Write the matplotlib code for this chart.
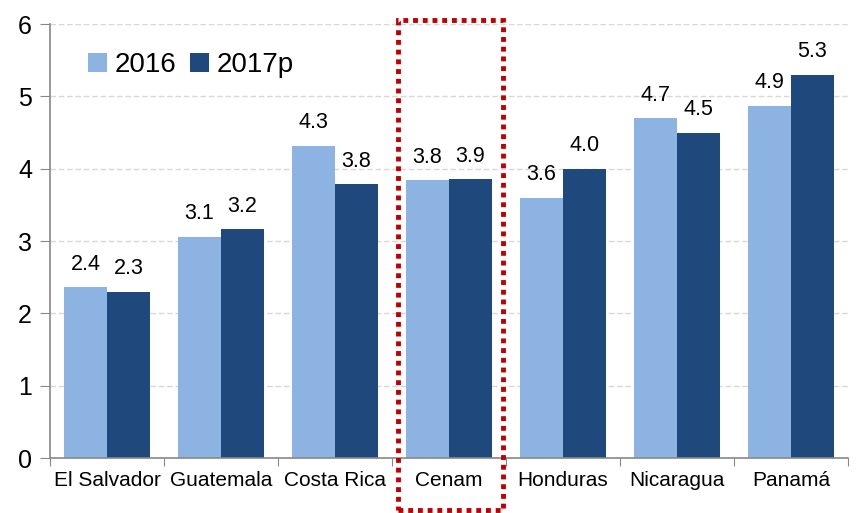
import numpy as np
import matplotlib.pyplot as plt
from matplotlib.patches import Rectangle

plt.rcParams['font.family'] = ['Liberation Sans', 'DejaVu Sans']

countries = ['El Salvador', 'Guatemala', 'Costa Rica', 'Cenam', 'Honduras', 'Nicaragua', 'Panamá']
v2016 = [2.36, 3.06, 4.32, 3.84, 3.60, 4.70, 4.87]
v2017 = [2.30, 3.16, 3.79, 3.86, 4.00, 4.50, 5.30]

c_light = '#8DB3E2'
c_dark = '#1F497D'

fig = plt.figure(figsize=(8.56, 5.13), dpi=100)
ax = fig.add_axes([0.0584, 0.1072, 0.9323, 0.846])

x = np.arange(len(countries))
w = 0.377
b1 = ax.bar(x - w/2, v2016, w, color=c_light, label='2016', zorder=2)
b2 = ax.bar(x + w/2, v2017, w, color=c_dark, label='2017p', zorder=2)

for rects, vals in ((b1, v2016), (b2, v2017)):
    for r, v in zip(rects, vals):
        ax.text(r.get_x() + r.get_width()/2, v + 0.17, f'{v:.1f}',
                ha='center', va='bottom', fontsize=15.5)

ax.set_xlim(-0.5, len(countries) - 0.5)
ax.set_ylim(0, 6)
ax.set_yticks(range(0, 7))
ax.tick_params(axis='y', labelsize=18, length=7, color='#888888', pad=6)
ax.set_xticks(np.arange(-0.5, len(countries), 1))
ax.set_xticklabels([])
ax.set_xticks(x, minor=True)
ax.set_xticklabels(countries, minor=True, fontsize=15)
ax.tick_params(axis='x', which='major', length=6, color='#888888')
ax.tick_params(axis='x', which='minor', length=0, pad=9)

ax.grid(axis='y', color='#d8d8d8', linestyle=(0, (4, 2)), linewidth=1, zorder=0)
for s in ('top', 'right'):
    ax.spines[s].set_visible(False)
for s in ('left', 'bottom'):
    ax.spines[s].set_color('#888888')
    ax.spines[s].set_linewidth(1.2)

ax.legend(loc='center left', bbox_to_anchor=(0.03, 0.905), frameon=False, ncol=2,
          fontsize=20, handlelength=0.7, handleheight=0.7, handletextpad=0.25,
          columnspacing=0.5, borderpad=0)

box = Rectangle((2.55, -0.72), 0.92, 6.77, fill=False, edgecolor='#C00000',
                linewidth=3.5, linestyle=(0, (1, 1)), clip_on=False, zorder=5)
ax.add_patch(box)

fig.savefig('out.png', dpi=100)
